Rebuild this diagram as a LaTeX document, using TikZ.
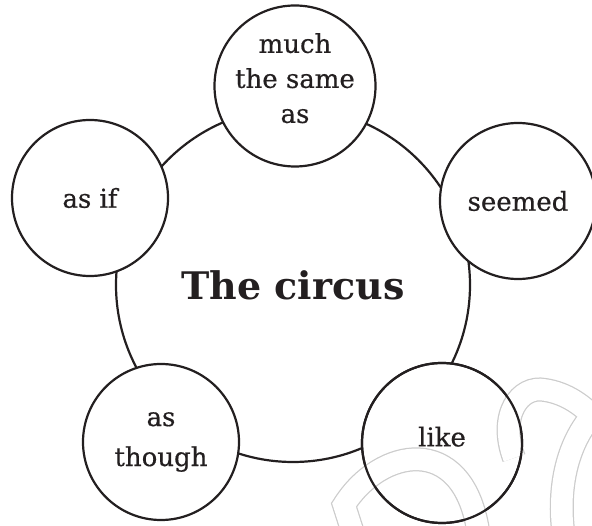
\documentclass[tikz,border=0pt]{standalone}
\usepackage{fontspec}
\setmainfont{DejaVu Serif}
\newfontfamily\bubblefont{DejaVu Serif}[FakeBold=0.5]
\definecolor{ink}{RGB}{35,31,32}
\begin{document}
\begin{tikzpicture}[x=1pt,y=-1pt,line width=2.2pt,color=ink,
  hub/.style={circle,draw,inner sep=0pt,minimum size=354pt,
    font=\fontsize{38}{44}\selectfont\bfseries},
  bubble/.style={circle,draw,fill=white,inner sep=0pt,minimum size=#1,
    align=center,font=\bubblefont\fontsize{26}{35}\selectfont},
  bubble/.default=156pt]
\useasboundingbox (0,0) rectangle (592,526);
\node[hub] (circus) at (293,285) {The circus};
\node[bubble=161pt,text depth=16pt] (same) at (295,86) {much\\the same\\as};
\node[bubble] (seemed) at (518,201) {seemed};
\node[bubble=160pt,text depth=13pt] (like) at (442,443) {like};
\node[bubble] (though) at (161,442) {as\\[5pt]though};
\node[bubble] (asif) at (90,198) {as if};
% watermark
\foreach \w/\wcol in {24/gray!40,21.5/white} {
  \draw[line width=\w pt,draw=\wcol] (352,530) -- (344,505)
    .. controls (380,448) and (462,432) .. (478,530);
  \draw[line width=\w pt,draw=\wcol] (514,458) .. controls (498,415) and (520,385) .. (545,390)
    .. controls (565,393) and (585,405) .. (600,425);
  \draw[line width=\w pt,draw=\wcol] (590,418) .. controls (568,445) and (558,485) .. (563,530);
}
\draw (like.center) circle[radius=80pt];
\end{tikzpicture}
\end{document}
